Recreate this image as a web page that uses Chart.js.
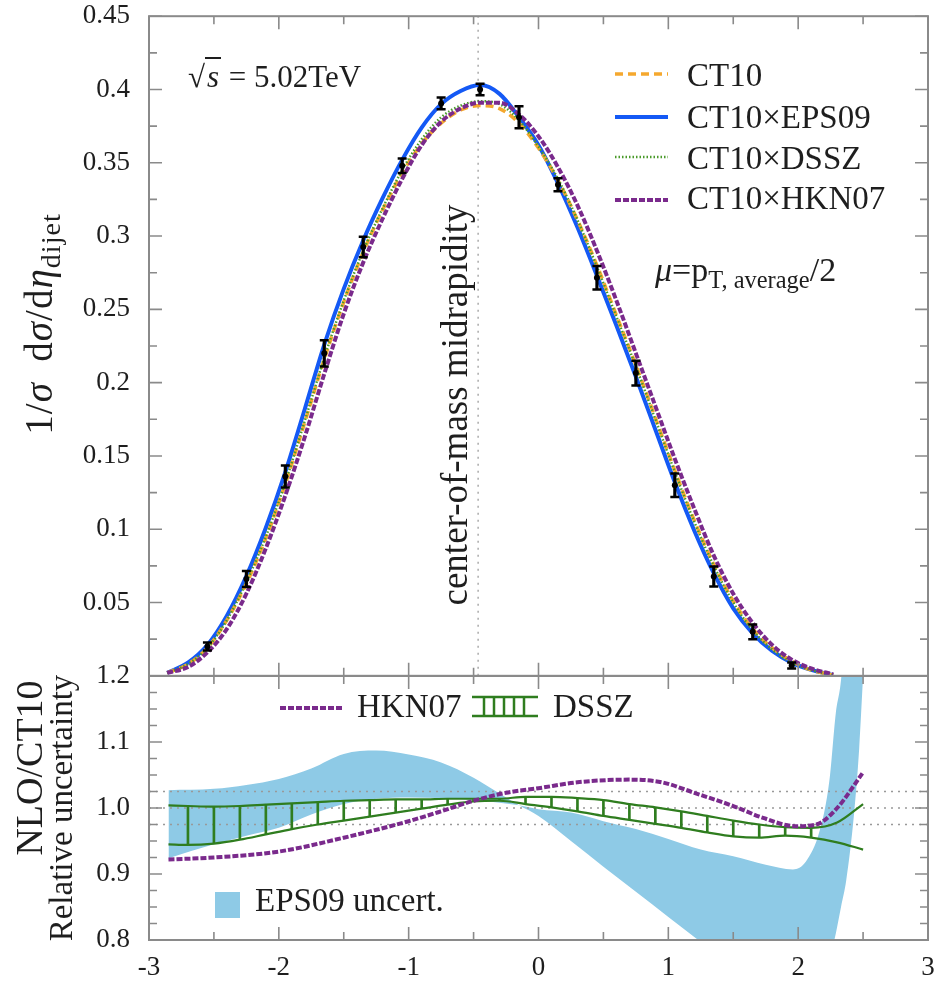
<!DOCTYPE html>
<html>
<head>
<meta charset="utf-8">
<script src="https://cdn.jsdelivr.net/npm/chart.js@4.4.1/dist/chart.umd.min.js"></script>
<style>
  body { margin: 0; background: #fff; }
  #wrap { position: relative; width: 936px; height: 985px; font-family: "Liberation Serif", "DejaVu Serif", serif; color: #1e1e1e; }
  canvas { position: absolute; left: 0; }
  svg { position: absolute; left: 0; top: 0; }
  .t { position: absolute; white-space: nowrap; line-height: 1; }
  .rot { transform: translate(-50%, -50%) rotate(-90deg); }
  sub { font-size: 0.72em; vertical-align: -0.3em; line-height: 0; }
</style>
</head>
<body>
<div id="wrap">
  <canvas id="top" width="936" height="692" style="top:0;width:936px;height:692px"></canvas>
  <canvas id="bot" width="936" height="326" style="top:659px;width:936px;height:326px"></canvas>

  <svg width="936" height="985">
    <line x1="615" y1="74" x2="668" y2="74" stroke="#f5a82e" stroke-width="3.5" stroke-dasharray="8 5"/>
    <line x1="615" y1="117" x2="668" y2="117" stroke="#1459f5" stroke-width="4"/>
    <line x1="615" y1="157" x2="668" y2="157" stroke="#4a9a2a" stroke-width="2.5" stroke-dasharray="1.5 2"/>
    <line x1="615" y1="200" x2="668" y2="200" stroke="#7a2a8c" stroke-width="4" stroke-dasharray="6 2"/>
    <line x1="280" y1="708" x2="344" y2="708" stroke="#7a2a8c" stroke-width="4" stroke-dasharray="6 2"/>
    <g stroke="#2f7d1f" stroke-width="2.5">
      <line x1="472" y1="697" x2="538" y2="697"/>
      <line x1="472" y1="716" x2="538" y2="716"/>
      <line x1="484" y1="697" x2="484" y2="716"/>
      <line x1="494" y1="697" x2="494" y2="716"/>
      <line x1="504" y1="697" x2="504" y2="716"/>
      <line x1="514" y1="697" x2="514" y2="716"/>
      <line x1="524" y1="697" x2="524" y2="716"/>
    </g>
    <rect x="215" y="892" width="25" height="26" fill="#8ecae6"/>
  </svg>

  <div class="t rot" style="left:38px;top:324px;font-size:39px;letter-spacing:1px">1/<i>σ</i>&#8194;d<i>σ</i>/d<i>η</i><sub>dijet</sub></div>
  <div class="t rot" style="left:29px;top:768px;font-size:38px">NLO/CT10</div>
  <div class="t rot" style="left:61px;top:808px;font-size:33px">Relative uncertainty</div>
  <div class="t rot" style="left:454px;top:405px;font-size:37px">center-of-mass midrapidity</div>

  <div class="t" style="left:188px;top:61px;font-size:31px">√<span style="border-top:2px solid #1e1e1e;padding:0 2px"><i>s</i></span> = 5.02TeV</div>
  <div class="t" style="left:687px;top:59px;font-size:33px">CT10</div>
  <div class="t" style="left:687px;top:101px;font-size:33px">CT10×EPS09</div>
  <div class="t" style="left:687px;top:142px;font-size:33px">CT10×DSSZ</div>
  <div class="t" style="left:687px;top:182px;font-size:33px">CT10×HKN07</div>
  <div class="t" style="left:655px;top:253px;font-size:34px"><i>μ</i>=p<sub>T, average</sub>/2</div>

  <div class="t" style="left:357px;top:690px;font-size:33px">HKN07</div>
  <div class="t" style="left:553px;top:690px;font-size:33px">DSSZ</div>
  <div class="t" style="left:255px;top:884px;font-size:33px">EPS09 uncert.</div>
</div>

<script>
// ---- top panel: normalised dijet pseudorapidity distribution ----
const etaTh = [-2.86, -2.7, -2.55, -2.4, -2.25, -2.1, -1.95, -1.8, -1.65, -1.5, -1.35, -1.2, -1.05, -0.9, -0.75, -0.6, -0.45, -0.3, -0.15, 0, 0.15, 0.3, 0.45, 0.6, 0.75, 0.9, 1.05, 1.2, 1.35, 1.5, 1.65, 1.8, 1.95, 2.1, 2.27];
const ct10  = [0.002, 0.008, 0.019, 0.038, 0.063, 0.094, 0.131, 0.173, 0.216, 0.255, 0.289, 0.318, 0.343, 0.363, 0.377, 0.386, 0.389, 0.387, 0.377, 0.360, 0.338, 0.311, 0.280, 0.246, 0.212, 0.176, 0.140, 0.106, 0.076, 0.051, 0.032, 0.019, 0.010, 0.004, 0.0005];
const eps09 = [0.002, 0.009, 0.021, 0.041, 0.068, 0.101, 0.139, 0.182, 0.226, 0.264, 0.297, 0.326, 0.352, 0.374, 0.390, 0.399, 0.403, 0.397, 0.381, 0.362, 0.336, 0.306, 0.273, 0.239, 0.204, 0.168, 0.132, 0.099, 0.070, 0.046, 0.029, 0.017, 0.009, 0.004, 0.0005];
const dssz  = [0.002, 0.008, 0.019, 0.038, 0.064, 0.095, 0.132, 0.174, 0.217, 0.256, 0.290, 0.319, 0.345, 0.366, 0.381, 0.389, 0.392, 0.390, 0.379, 0.361, 0.339, 0.311, 0.279, 0.245, 0.211, 0.175, 0.139, 0.105, 0.075, 0.050, 0.031, 0.018, 0.009, 0.004, 0.0005];
const hkn07 = [0.002, 0.006, 0.016, 0.032, 0.056, 0.087, 0.123, 0.163, 0.206, 0.247, 0.282, 0.312, 0.339, 0.362, 0.378, 0.387, 0.391, 0.391, 0.383, 0.368, 0.347, 0.321, 0.290, 0.256, 0.220, 0.184, 0.148, 0.114, 0.082, 0.056, 0.036, 0.021, 0.011, 0.005, 0.001];

const ptEta = [-2.55, -2.25, -1.95, -1.65, -1.35, -1.05, -0.75, -0.45, -0.15, 0.15, 0.45, 0.75, 1.05, 1.35, 1.65, 1.95];
const ptVal = [0.020, 0.066, 0.136, 0.220, 0.2925, 0.348, 0.3905, 0.400, 0.381, 0.335, 0.2715, 0.2065, 0.130, 0.0677, 0.030, 0.007];
const ptErr = [0.0027, 0.0055, 0.0075, 0.009, 0.007, 0.005, 0.004, 0.004, 0.0075, 0.0045, 0.008, 0.0085, 0.008, 0.0068, 0.005, 0.002];

const midEta = -0.465;

// ---- bottom panel: ratios to CT10 ----
const bandEta = [-2.85, -2.5, -2.25, -2.0, -1.75, -1.5, -1.25, -1.0, -0.75, -0.5, -0.3, -0.15, 0, 0.25, 0.5, 0.75, 1.0, 1.25, 1.5, 1.75, 1.96, 2.06, 2.165, 2.24, 2.29, 2.33, 2.37, 2.43, 2.47, 2.5];
const bandA   = [1.027, 1.029, 1.035, 1.044, 1.060, 1.082, 1.087, 1.081, 1.069, 1.046, 1.022, 1.004, 0.988, 0.950, 0.911, 0.873, 0.835, 0.797, 0.760, 0.730, 0.712, 0.712, 0.730, 0.770, 0.810, 0.850, 0.890, 0.990, 1.090, 1.200];
const bandB   = [0.924, 0.945, 0.958, 0.970, 0.990, 1.006, 1.014, 1.016, 1.015, 1.012, 1.008, 1.004, 0.998, 0.993, 0.980, 0.968, 0.953, 0.937, 0.927, 0.914, 0.907, 0.919, 0.965, 1.041, 1.144, 1.194, 1.300, 1.400, 1.500, 1.600];

const dsszEta = [-2.85, -2.7, -2.5, -2.3, -2.1, -1.9, -1.7, -1.5, -1.3, -1.1, -0.9, -0.7, -0.5, -0.3, -0.1, 0.1, 0.3, 0.5, 0.7, 0.9, 1.1, 1.3, 1.5, 1.7, 1.9, 2.1, 2.3, 2.5];
const dsszHi  = [1.004, 1.003, 1.002, 1.003, 1.005, 1.007, 1.009, 1.011, 1.012, 1.013, 1.013, 1.014, 1.014, 1.014, 1.017, 1.017, 1.015, 1.012, 1.006, 1.001, 0.995, 0.988, 0.981, 0.975, 0.971, 0.970, 0.978, 1.006];
const dsszLo  = [0.945, 0.944, 0.946, 0.952, 0.960, 0.968, 0.975, 0.981, 0.987, 0.993, 0.999, 1.005, 1.010, 1.011, 1.006, 1.001, 0.995, 0.988, 0.982, 0.976, 0.970, 0.963, 0.957, 0.955, 0.958, 0.955, 0.948, 0.937];
const hatchFrom = -2.7, hatchTo = 2.1;

const hknEta   = [-2.85, -2.5, -2.0, -1.5, -1.0, -0.75, -0.5, -0.25, 0, 0.3, 0.7, 0.95, 1.2, 1.5, 1.73, 1.98, 2.14, 2.3, 2.5];
const hknRatio = [0.922, 0.925, 0.934, 0.955, 0.980, 0.995, 1.011, 1.023, 1.030, 1.039, 1.043, 1.039, 1.023, 1.003, 0.985, 0.9725, 0.975, 1.000, 1.054];

const refLevels = [1.025, 1.0, 0.975];

const xTickLabels = ['-3', '-2', '-1', '0', '1', '2', '3'];
const topYLabels = ['', '0.05', '0.1', '0.15', '0.2', '0.25', '0.3', '0.35', '0.4', '0.45'];
const botYLabels = ['0.8', '0.9', '1.0', '1.1', '1.2'];

const ORANGE = '#f5a82e', BLUE = '#1459f5', GREEN = '#4a9a2a', DGREEN = '#2f7d1f', PURPLE = '#7a2a8c', SKY = '#8ecae6';
const FRAME = '#8a8a8a';
const tickFont = { family: '"Liberation Serif", "DejaVu Serif", serif', size: 27 };

function pts(xs, ys) {
    return xs.map((x, i) => ({ x, y: ys[i] }));
}

// frame + inward ticks on all four sides
const frameTicks = {
    id: 'frameTicks',
    afterDatasetsDraw(chart, args, o) {
        const { ctx, chartArea: a } = chart;
        const x = chart.scales.x, y = chart.scales.y;
        ctx.save();
        ctx.strokeStyle = FRAME;
        ctx.lineWidth = 1.6;
        ctx.beginPath();
        const ny = Math.round((y.max - y.min) / o.yStep);
        for (let i = 0; i <= ny; i++) {
            const py = y.getPixelForValue(y.min + i * o.yStep);
            const len = i % o.yMajor === 0 ? 13 : 8;
            ctx.moveTo(a.left, py); ctx.lineTo(a.left + len, py);
            ctx.moveTo(a.right, py); ctx.lineTo(a.right - len, py);
        }
        const nx = Math.round((x.max - x.min) / o.xStep);
        for (let i = 0; i <= nx; i++) {
            const px = x.getPixelForValue(x.min + i * o.xStep);
            const len = i % o.xMajor === 0 ? 13 : 8;
            ctx.moveTo(px, a.top); ctx.lineTo(px, a.top + len);
            ctx.moveTo(px, a.bottom); ctx.lineTo(px, a.bottom - len);
        }
        ctx.stroke();
        ctx.lineWidth = 2;
        ctx.strokeRect(a.left, a.top, a.right - a.left, a.bottom - a.top);
        ctx.restore();
    }
};

// label gap comes from an invisible tick length, so it does not pad the chart area
const yAxisBase = {
    afterFit: s => { s.width = 149; },
    grid: { display: false, drawTicks: true, tickLength: 19 },
    border: { display: false },
};

// ---------- top chart ----------
new Chart(document.getElementById('top'), {
    type: 'line',
    data: {
        datasets: [
            { data: pts(ptEta, ptVal), showLine: false, pointRadius: 3, pointBackgroundColor: '#000', pointBorderWidth: 0, order: 0 },
            { data: pts(ptEta, ptVal.map((v, i) => v + ptErr[i])), showLine: false, pointStyle: 'line', pointRadius: 4.5, pointBorderWidth: 2.5, pointBorderColor: '#000', order: 1 },
            { data: pts(ptEta, ptVal.map((v, i) => v - ptErr[i])), showLine: false, pointStyle: 'line', pointRadius: 4.5, pointBorderWidth: 2.5, pointBorderColor: '#000', order: 1 },
            { type: 'bar', data: ptEta.map((e, i) => ({ x: e, y: [ptVal[i] - ptErr[i], ptVal[i] + ptErr[i]] })), backgroundColor: '#000', barThickness: 2.5, grouped: false, order: 2 },
            { label: 'CT10×HKN07', data: pts(etaTh, hkn07), borderColor: PURPLE, borderWidth: 4, borderDash: [6, 2], order: 3 },
            { label: 'CT10×DSSZ', data: pts(etaTh, dssz), borderColor: GREEN, borderWidth: 2.5, borderDash: [1.5, 2], order: 4 },
            { label: 'CT10', data: pts(etaTh, ct10), borderColor: ORANGE, borderWidth: 3.5, borderDash: [8, 5], order: 5 },
            { label: 'CT10×EPS09', data: pts(etaTh, eps09), borderColor: BLUE, borderWidth: 4, order: 6 },
            { data: [{ x: midEta, y: 0 }, { x: midEta, y: 0.45 }], borderColor: '#aaa', borderWidth: 1.5, borderDash: [2, 5], cubicInterpolationMode: 'default', tension: 0, order: 9 },
        ]
    },
    options: {
        responsive: false,
        animation: false,
        events: [],
        layout: { padding: { top: 16, right: 8, bottom: 16, left: 0 } },
        elements: { point: { radius: 0 }, line: { cubicInterpolationMode: 'monotone', fill: false } },
        plugins: {
            legend: { display: false },
            tooltip: { enabled: false },
            frameTicks: { yStep: 0.025, yMajor: 2, xStep: 0.5, xMajor: 2 }
        },
        scales: {
            x: { type: 'linear', min: -3, max: 3, offset: false, display: false },
            y: {
                ...yAxisBase,
                type: 'linear', min: 0, max: 0.45,
                ticks: { stepSize: 0.05, autoSkip: false, padding: 0, color: '#1e1e1e', font: tickFont, callback: (v, i) => topYLabels[i] }
            }
        }
    },
    plugins: [frameTicks]
});

// ---------- bottom chart ----------
const hatch = [];
dsszEta.forEach((e, i) => {
    if (e >= hatchFrom - 1e-9 && e <= hatchTo + 1e-9) hatch.push({ x: e, y: [dsszLo[i], dsszHi[i]] });
});

new Chart(document.getElementById('bot'), {
    type: 'line',
    data: {
        datasets: [
            { data: pts(bandEta, bandA), borderWidth: 0, borderColor: SKY, fill: false, order: 20 },
            { data: pts(bandEta, bandB), borderWidth: 0, borderColor: SKY, backgroundColor: SKY, fill: '-1', order: 19 },
            ...refLevels.map(r => ({ data: [{ x: -3, y: r }, { x: 3, y: r }], borderColor: '#999', borderWidth: 1.5, borderDash: [2, 5], order: 15 })),
            { type: 'bar', data: hatch, backgroundColor: DGREEN, barThickness: 2, grouped: false, order: 6 },
            { data: pts(dsszEta, dsszHi), borderColor: DGREEN, borderWidth: 2.2, order: 5 },
            { data: pts(dsszEta, dsszLo), borderColor: DGREEN, borderWidth: 2.2, order: 5 },
            { data: pts(hknEta, hknRatio), borderColor: PURPLE, borderWidth: 4, borderDash: [6, 2], order: 1 },
        ]
    },
    options: {
        responsive: false,
        animation: false,
        events: [],
        layout: { padding: { top: 17, right: 8, bottom: 9, left: 0 } },
        elements: { point: { radius: 0 }, line: { cubicInterpolationMode: 'monotone' } },
        plugins: {
            legend: { display: false },
            tooltip: { enabled: false },
            frameTicks: { yStep: 0.025, yMajor: 4, xStep: 0.5, xMajor: 2 }
        },
        scales: {
            x: {
                type: 'linear', min: -3, max: 3, offset: false,
                afterFit: s => { s.height = 36; },
                grid: { display: false, drawTicks: true, tickLength: 12 },
                border: { display: false },
                ticks: { stepSize: 1, autoSkip: false, maxRotation: 0, padding: 0, color: '#1e1e1e', font: tickFont, callback: (v, i) => xTickLabels[i] }
            },
            y: {
                ...yAxisBase,
                type: 'linear', min: 0.8, max: 1.2,
                ticks: { stepSize: 0.1, autoSkip: false, padding: 0, color: '#1e1e1e', font: tickFont, callback: (v, i) => botYLabels[i] }
            }
        }
    },
    plugins: [frameTicks]
});
</script>
</body>
</html>
